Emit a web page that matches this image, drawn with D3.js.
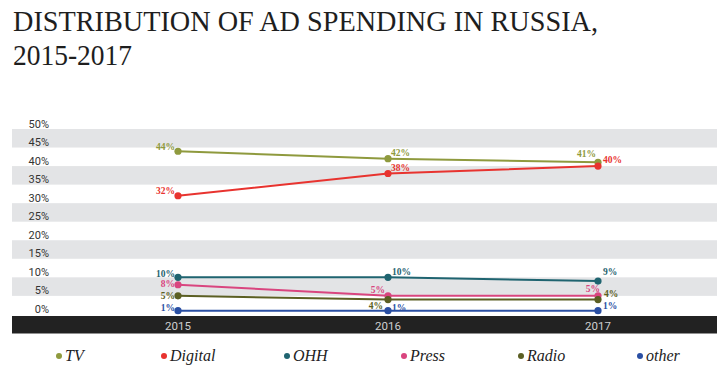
<!DOCTYPE html>
<html>
<head>
<meta charset="utf-8">
<script src="https://cdn.jsdelivr.net/npm/d3@7"></script>
<style>
  body { margin: 0; background: #fff; }
  svg { display: block; }
  .serif { font-family: 'Liberation Serif', 'DejaVu Serif', serif; }
  .sans { font-family: Roboto, 'Noto Sans', sans-serif; }
</style>
</head>
<body>
<div id="chart"></div>
<script>
  var years = ['2015', '2016', '2017'];
  var seriesNames = ['TV', 'Digital', 'OHH', 'Press', 'Radio', 'other'];
  var seriesColors = ['#8f9a3e', '#e8332f', '#1f6470', '#d9457f', '#5b5f23', '#2a4fa3'];
  var tvValues = [44, 42, 41];
  var digitalValues = [32, 38, 40];
  var ohhValues = [10, 10, 9];
  var pressValues = [8, 5, 5];
  var radioValues = [5, 4, 4];
  var otherValues = [1, 1, 1];
  var yTicks = [0, 5, 10, 15, 20, 25, 30, 35, 40, 45, 50];

  // label placement per point: [dx, dy, anchor]
  var labelPos = {
    TV:      [[-3, -1, 'end'], [3, -3, 'start'], [-2, -5, 'end']],
    Digital: [[-3, -1.5, 'end'], [3, -2.5, 'start'], [5, -3, 'start']],
    OHH:     [[-3, 0, 'end'], [4, -2, 'start'], [5, -6.5, 'start']],
    Press:   [[-3, 2, 'end'], [-3, -2.5, 'end'], [2, -3.5, 'end']],
    Radio:   [[-3, 3, 'end'], [-5, 9, 'end'], [6, -2.5, 'start']],
    other:   [[-3, 0, 'end'], [4, 0, 'start'], [5, -1.5, 'start']]
  };

  var allValues = [tvValues, digitalValues, ohhValues, pressValues, radioValues, otherValues];
  var series = seriesNames.map(function(n, i) {
    return { name: n, color: seriesColors[i], values: allValues[i] };
  });

  var width = 727, height = 370;
  var svg = d3.select('#chart').append('svg')
    .attr('width', width).attr('height', height);

  // title
  svg.append('text').attr('class', 'serif').attr('x', 13).attr('y', 31)
    .attr('font-size', 29).attr('fill', '#1e1e1e')
    .attr('textLength', 585).attr('lengthAdjust', 'spacingAndGlyphs')
    .text('DISTRIBUTION OF AD SPENDING IN RUSSIA,');
  svg.append('text').attr('class', 'serif').attr('x', 13).attr('y', 65)
    .attr('font-size', 29).attr('fill', '#1e1e1e')
    .attr('textLength', 119).attr('lengthAdjust', 'spacingAndGlyphs')
    .text('2015-2017');

  var left = 12, right = 717;
  var x = d3.scalePoint().domain(years).range([178, 598]);
  var y = d3.scaleLinear().domain([0, 50]).range([314.4, 129]);

  // alternating bands
  var bands = d3.range(5, 50, 10);
  svg.append('g').selectAll('rect').data(bands).enter().append('rect')
    .attr('x', left).attr('width', right - left)
    .attr('y', function(d) { return y(d + 5); })
    .attr('height', function(d) { return y(d) - y(d + 5); })
    .attr('fill', '#e3e4e6');

  // y axis labels
  svg.append('g').selectAll('text').data(yTicks).enter().append('text')
    .attr('class', 'sans')
    .attr('x', 49).attr('y', function(d) { return y(d) - 1.5; })
    .attr('text-anchor', 'end')
    .attr('font-size', 11).attr('fill', '#333')
    .text(function(d) { return d + '%'; });

  // dark x axis bar
  svg.append('rect').attr('x', left).attr('y', 316)
    .attr('width', right - left).attr('height', 17.5).attr('fill', '#222');
  svg.append('g').selectAll('text').data(years).enter().append('text')
    .attr('class', 'sans')
    .attr('x', function(d) { return x(d); }).attr('y', 329.5)
    .attr('text-anchor', 'middle')
    .attr('font-size', 11.5).attr('fill', '#cfcfcf')
    .text(function(d) { return d; });

  var line = d3.line()
    .x(function(d, i) { return x(years[i]); })
    .y(function(d) { return y(d); });

  var g = svg.selectAll('.series').data(series).enter().append('g').attr('class', 'series');
  g.append('path')
    .attr('d', function(d) { return line(d.values); })
    .attr('fill', 'none').attr('stroke', function(d) { return d.color; })
    .attr('stroke-width', 2);
  g.selectAll('circle').data(function(d) { return d.values.map(function(v) { return { v: v, c: d.color }; }); })
    .enter().append('circle')
    .attr('cx', function(d, i) { return x(years[i]); })
    .attr('cy', function(d) { return y(d.v); })
    .attr('r', 3.6)
    .attr('fill', function(d) { return d.c; });
  g.selectAll('text').data(function(d) {
      return d.values.map(function(v, i) { return { v: v, c: d.color, p: labelPos[d.name][i] }; });
    })
    .enter().append('text')
    .attr('class', 'serif')
    .attr('x', function(d, i) { return x(years[i]) + d.p[0]; })
    .attr('y', function(d) { return y(d.v) + d.p[1]; })
    .attr('text-anchor', function(d) { return d.p[2]; })
    .attr('font-weight', 'bold').attr('font-size', 9.5)
    .attr('fill', function(d) { return d.c; })
    .text(function(d) { return d.v + '%'; });

  // legend
  var legendX = [59, 164, 287, 404, 521, 640];
  var leg = svg.selectAll('.legend').data(series).enter().append('g')
    .attr('class', 'legend')
    .attr('transform', function(d, i) { return 'translate(' + legendX[i] + ',356)'; });
  leg.append('circle').attr('r', 3).attr('fill', function(d) { return d.color; });
  leg.append('text').attr('class', 'serif').attr('x', 6).attr('y', 5)
    .attr('font-style', 'italic').attr('font-size', 16).attr('fill', '#222')
    .text(function(d) { return d.name; });
</script>
</body>
</html>
